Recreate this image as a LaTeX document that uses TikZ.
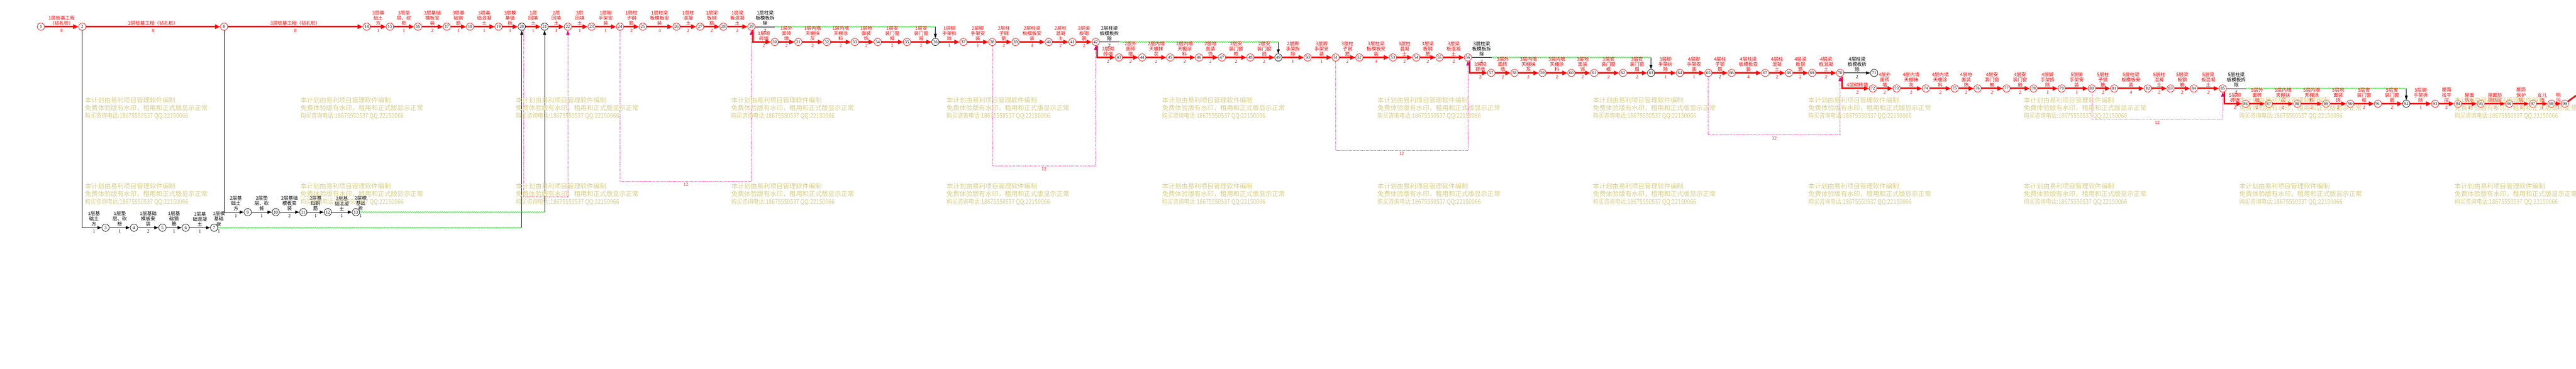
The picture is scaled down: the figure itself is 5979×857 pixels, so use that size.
\documentclass[tikz,border=0pt]{standalone}
\usepackage{fontspec}
\usepackage{graphicx}
\setmainfont{Liberation Serif}
\newfontfamily\cjk{Noto Sans CJK SC}
\usetikzlibrary{arrows.meta,calc,decorations.pathmorphing}
\definecolor{wmc}{RGB}{216,206,132}
\definecolor{vgreen}{RGB}{0,235,0}
\tikzset{
 rn/.style={circle,draw=red,line width=0.9pt,fill=white,minimum size=17pt,inner sep=0pt,font=\fontsize{10}{10}\selectfont},
 bn/.style={rn,draw=black},
 ra/.style={red,line width=3.6pt,-{Triangle[length=12pt,width=10pt]}},
 ba/.style={black,line width=0.8pt,-{Triangle[length=10pt,width=7pt]}},
 bl/.style={black,line width=0.8pt},
 wavy/.style={vgreen,line width=0.8pt,decorate,decoration={snake,amplitude=1.3pt,segment length=5pt}},
 vb/.style={magenta,line width=0.8pt,dotted,-{Triangle[length=10pt,width=8pt]}},
 lab/.style={anchor=south,yshift=3pt,align=center,inner sep=0pt,text=red,font=\cjk\fontsize{11}{12}\selectfont},
 blab/.style={lab,text=black},
 dur/.style={anchor=north,yshift=-5pt,inner sep=0pt,text=red,font=\fontsize{11}{11}\selectfont},
 bdur/.style={dur,text=black},
 boxlab/.style={anchor=north,yshift=-4pt,inner sep=0pt,text=red,font=\fontsize{11}{11}\selectfont},
 wmk/.style={anchor=west,inner sep=0pt,text=wmc,font=\cjk\fontsize{15}{18}\selectfont},
}
\newcommand\RA[4]{\draw[ra] (#1) -- (#2); \path ($(#1)!0.5!(#2)$) node[lab]{#3} node[dur]{#4};}
\newcommand\BA[4]{\draw[ba] (#1) -- (#2); \path ($(#1)!0.5!(#2)$) node[blab]{#3} node[bdur]{#4};}
\newcommand\RD[4]{\draw[ra] ([xshift=4pt]#1.south) |- (#2); \path ($(#1 |- #2)!0.5!(#2)$) node[lab,xshift=2pt]{#3} node[dur,xshift=2pt]{#4};}
\newcommand\BD[4]{\draw[ba] (#1.south) |- (#2); \path ($(#1 |- #2)!0.5!(#2)$) node[blab]{#3} node[bdur]{#4};}
\newcommand\BW[5]{\draw[bl] (#1.east) -- ++(#5,0) coordinate (w#1); \draw[wavy] (w#1) -- (w#1 -| #2); \draw[ba] (w#1 -| #2) -- (#2); \path (#1.east) ++(#5/2,0) node[blab]{#3} node[bdur]{#4};}
\begin{document}
\begin{tikzpicture}[x=1pt,y=-1pt]
\fill[white] (0,0) rectangle (5979,857);
\path[use as bounding box] (0,0) rectangle (5979,857);
% ---------- nodes row 0
\node[rn] (n1) at (95,62) {1};
\node[rn] (n2) at (191,62) {2};
\node[rn] (n8) at (520,62) {8};
\node[rn] (n14) at (851,62) {14};
\node[rn] (n15) at (905,62) {15};
\node[rn] (n16) at (970,62) {16};
\node[rn] (n17) at (1037,62) {17};
\node[rn] (n18) at (1091,62) {18};
\node[rn] (n19) at (1157,62) {19};
\node[bn] (n20) at (1211,62) {20};
\node[bn] (n21) at (1264,62) {21};
\node[rn] (n22) at (1318,62) {22};
\node[rn] (n23) at (1373,62) {23};
\node[rn] (n24) at (1439,62) {24};
\node[rn] (n25) at (1492,62) {25};
\node[rn] (n26) at (1570,62) {26};
\node[rn] (n27) at (1625,62) {27};
\node[rn] (n28) at (1679,62) {28};
\node[rn] (n29) at (1744,62) {29};
% chains
\node[bn] (n3) at (245,529) {3};
\node[bn] (n4) at (311,529) {4};
\node[bn] (n5) at (377,529) {5};
\node[bn] (n6) at (431,529) {6};
\node[bn] (n7) at (497,529) {7};
\node[bn] (n9) at (575,493) {9};
\node[bn] (n10) at (640,493) {10};
\node[bn] (n11) at (704,493) {11};
\node[bn] (n12) at (761,493) {12};
\node[bn] (n13) at (826,493) {13};
% row 1
\node[rn] (n30) at (1798,97.5) {30};
\node[rn] (n31) at (1853,97.5) {31};
\node[rn] (n32) at (1919,97.5) {32};
\node[rn] (n33) at (1984,97.5) {33};
\node[rn] (n34) at (2037,97.5) {34};
\node[rn] (n35) at (2105,97.5) {35};
\node[bn] (n36) at (2171,97.5) {36};
\node[rn] (n37) at (2236,97.5) {37};
\node[rn] (n38) at (2303,97.5) {38};
\node[rn] (n39) at (2357,97.5) {39};
\node[rn] (n40) at (2434,97.5) {40};
\node[rn] (n41) at (2489,97.5) {41};
\node[rn] (n42) at (2543,97.5) {42};
% row 2
\node[rn] (n43) at (2597,133.5) {43};
\node[rn] (n44) at (2651,133.5) {44};
\node[rn] (n45) at (2716,133.5) {45};
\node[rn] (n46) at (2783,133.5) {46};
\node[rn] (n47) at (2836,133.5) {47};
\node[rn] (n48) at (2902,133.5) {48};
\node[bn] (n49) at (2967,133.5) {49};
\node[rn] (n50) at (3035,133.5) {50};
\node[rn] (n51) at (3100,133.5) {51};
\node[rn] (n52) at (3155,133.5) {52};
\node[rn] (n53) at (3233,133.5) {53};
\node[rn] (n54) at (3287,133.5) {54};
\node[rn] (n55) at (3341,133.5) {55};
\node[rn] (n56) at (3407,133.5) {56};
% row 3
\node[rn] (n57) at (3461,169.5) {57};
\node[rn] (n58) at (3515,169.5) {58};
\node[rn] (n59) at (3580,169.5) {59};
\node[rn] (n60) at (3647,169.5) {60};
\node[rn] (n61) at (3700,169.5) {61};
\node[rn] (n62) at (3767,169.5) {62};
\node[bn] (n63) at (3832,169.5) {63};
\node[rn] (n64) at (3899,169.5) {64};
\node[rn] (n65) at (3965,169.5) {65};
\node[rn] (n66) at (4019,169.5) {66};
\node[rn] (n67) at (4097,169.5) {67};
\node[rn] (n68) at (4152,169.5) {68};
\node[rn] (n69) at (4206,169.5) {69};
\node[rn] (n70) at (4271,169.5) {70};
\node[bn] (n71) at (4350,169.5) {71};
% row 4
\node[rn] (n72) at (4347,205.5) {72};
\node[rn] (n73) at (4402,205.5) {73};
\node[rn] (n74) at (4470,205.5) {74};
\node[rn] (n75) at (4537,205.5) {75};
\node[rn] (n76) at (4590,205.5) {76};
\node[rn] (n77) at (4657,205.5) {77};
\node[rn] (n78) at (4720,205.5) {78};
\node[rn] (n79) at (4785,205.5) {79};
\node[rn] (n80) at (4855,205.5) {80};
\node[rn] (n81) at (4907,205.5) {81};
\node[rn] (n82) at (4985,205.5) {82};
\node[rn] (n83) at (5038,205.5) {83};
\node[rn] (n84) at (5092,205.5) {84};
\node[rn] (n85) at (5159,205.5) {85};
% row 5
\node[rn] (n86) at (5212,241) {86};
\node[rn] (n87) at (5266,241) {87};
\node[rn] (n88) at (5332,241) {88};
\node[rn] (n89) at (5399,241) {89};
\node[rn] (n90) at (5455,241) {90};
\node[rn] (n91) at (5519,241) {91};
\node[bn] (n92) at (5585,241) {92};
\node[rn] (n93) at (5652,241) {93};
\node[rn] (n94) at (5705,241) {94};
\node[rn] (n95) at (5758,241) {95};
\node[rn] (n96) at (5824,241) {96};
\node[rn] (n97) at (5879,241) {97};
\node[rn] (n98) at (5922,241) {98};
\node[rn] (n99) at (5953,241) {99};
% ---------- virtual (pink) links
\coordinate (b1) at (1264,457);
\coordinate (b2) at (1592,421);
\coordinate (b3) at (2423,385);
\coordinate (b4) at (3253,349);
\coordinate (b5) at (4118,313);
\coordinate (b6) at (5007,277);
\draw[vb] ([xshift=4pt]n20.south) |- (b1) -| (n22.south);
\draw[vb] (n24.south) |- (b2) -| (n29.south);
\draw[vb] (n38.south) |- (b3) -| (n42.south);
\draw[vb] (n51.south) |- (b4) -| (n56.south);
\draw[vb] (n65.south) |- (b5) -| (n70.south);
\draw[vb] (n80.south) |- (b6) -| (n85.south);
\node[boxlab] (l1) at (b1) {2};
\node[boxlab] (l2) at (b2) {12};
\node[boxlab] (l3) at (b3) {12};
\node[boxlab] (l4) at (b4) {12};
\node[boxlab] (l5) at (b5) {12};
\node[boxlab] (l6) at (b6) {12};
% ---------- row 0 activities
\RA{n1}{n2}{1层桩基工程\\（钻孔桩）}{8}
\RA{n2}{n8}{2层桩基工程（钻孔桩）}{8}
\RA{n8}{n14}{3层桩基工程（钻孔桩）}{8}
\RA{n14}{n15}{3层基\\础土\\方}{1}
\RA{n15}{n16}{3层垫\\层、砍\\桩}{1}
\RA{n16}{n17}{3层基础\\模板安\\装}{2}
\RA{n17}{n18}{3层基\\础钢\\筋}{1}
\RA{n18}{n19}{3层基\\础混凝\\土}{1}
\RA{n19}{n20}{3层模\\基础\\拆}{1}
\RA{n20}{n21}{1层\\回填\\土}{1}
\RA{n21}{n22}{2层\\回填\\土}{1}
\RA{n22}{n23}{3层\\回填\\土}{1}
\RA{n23}{n24}{1层脚\\手架安\\装}{1}
\RA{n24}{n25}{1层柱\\子钢\\筋}{2}
\RA{n25}{n26}{1层柱梁\\板模板安\\装}{4}
\RA{n26}{n27}{1层柱\\混凝\\土}{2}
\RA{n27}{n28}{1层梁\\板钢\\筋}{2}
\RA{n28}{n29}{1层梁\\板混凝\\土}{2}
\BW{n29}{n36}{1层柱梁\\板模板拆\\除}{2}{46}
\RD{n29}{n30}{1层砌\\砖墙}{2}
% ---------- row 1
\RA{n30}{n31}{1层外\\面砖\\墙}{2}
\RA{n31}{n32}{1层内墙\\天棚抹\\灰}{2}
\RA{n32}{n33}{1层内墙\\天棚涂\\料}{2}
\RA{n33}{n34}{1层地\\面装\\饰}{2}
\RA{n34}{n35}{1层安\\装门窗\\框}{2}
\RA{n35}{n36}{1层安\\装门窗\\扇}{2}
\RA{n36}{n37}{1层脚\\手架拆\\除}{1}
\RA{n37}{n38}{2层脚\\手架安\\装}{1}
\RA{n38}{n39}{2层柱\\子钢\\筋}{2}
\RA{n39}{n40}{2层柱梁\\板模板安\\装}{4}
\RA{n40}{n41}{2层柱\\混凝\\土}{2}
\RA{n41}{n42}{2层梁\\板钢\\筋}{2}
\BW{n42}{n49}{2层柱梁\\板模板拆\\除}{2}{46}
\RD{n42}{n43}{2层砌\\砖墙}{2}
% ---------- row 2
\RA{n43}{n44}{2层外\\面砖\\墙}{2}
\RA{n44}{n45}{2层内墙\\天棚抹\\灰}{2}
\RA{n45}{n46}{2层内墙\\天棚涂\\料}{2}
\RA{n46}{n47}{2层地\\面装\\饰}{2}
\RA{n47}{n48}{2层安\\装门窗\\框}{2}
\RA{n48}{n49}{2层安\\装门窗\\扇}{2}
\RA{n49}{n50}{2层脚\\手架拆\\除}{1}
\RA{n50}{n51}{3层脚\\手架安\\装}{1}
\RA{n51}{n52}{3层柱\\子钢\\筋}{2}
\RA{n52}{n53}{3层柱梁\\板模板安\\装}{4}
\RA{n53}{n54}{3层柱\\混凝\\土}{2}
\RA{n54}{n55}{3层梁\\板钢\\筋}{2}
\RA{n55}{n56}{3层梁\\板混凝\\土}{2}
\BW{n56}{n63}{3层柱梁\\板模板拆\\除}{2}{46}
\RD{n56}{n57}{3层砌\\砖墙}{2}
% ---------- row 3
\RA{n57}{n58}{3层外\\面砖\\墙}{2}
\RA{n58}{n59}{3层内墙\\天棚抹\\灰}{2}
\RA{n59}{n60}{3层内墙\\天棚涂\\料}{2}
\RA{n60}{n61}{3层地\\面装\\饰}{2}
\RA{n61}{n62}{3层安\\装门窗\\框}{2}
\RA{n62}{n63}{3层安\\装门窗\\扇}{2}
\RA{n63}{n64}{3层脚\\手架拆\\除}{1}
\RA{n64}{n65}{4层脚\\手架安\\装}{1}
\RA{n65}{n66}{4层柱\\子钢\\筋}{2}
\RA{n66}{n67}{4层柱梁\\板模板安\\装}{4}
\RA{n67}{n68}{4层柱\\混凝\\土}{2}
\RA{n68}{n69}{4层梁\\板钢\\筋}{2}
\RA{n69}{n70}{4层梁\\板混凝\\土}{2}
\BA{n70}{n71}{4层柱梁\\板模板拆\\除}{2}
\RD{n70}{n72}{4层砌砖墙}{2}
% ---------- row 4
\RA{n72}{n73}{4层外\\面砖\\墙}{2}
\RA{n73}{n74}{4层内墙\\天棚抹\\灰}{2}
\RA{n74}{n75}{4层内墙\\天棚涂\\料}{2}
\RA{n75}{n76}{4层地\\面装\\饰}{2}
\RA{n76}{n77}{4层安\\装门窗\\框}{2}
\RA{n77}{n78}{4层安\\装门窗\\扇}{2}
\RA{n78}{n79}{4层脚\\手架拆\\除}{1}
\RA{n79}{n80}{5层脚\\手架安\\装}{1}
\RA{n80}{n81}{5层柱\\子钢\\筋}{2}
\RA{n81}{n82}{5层柱梁\\板模板安\\装}{4}
\RA{n82}{n83}{5层柱\\混凝\\土}{2}
\RA{n83}{n84}{5层梁\\板钢\\筋}{2}
\RA{n84}{n85}{5层梁\\板混凝\\土}{2}
\BW{n85}{n92}{5层柱梁\\板模板拆\\除}{2}{45}
\RD{n85}{n86}{5层砌\\砖墙}{2}
% ---------- row 5
\RA{n86}{n87}{5层外\\面砖\\墙}{2}
\RA{n87}{n88}{5层内墙\\天棚抹\\灰}{2}
\RA{n88}{n89}{5层内墙\\天棚涂\\料}{2}
\RA{n89}{n90}{5层地\\面装\\饰}{2}
\RA{n90}{n91}{5层安\\装门窗\\框}{2}
\RA{n91}{n92}{5层安\\装门窗\\扇}{2}
\RA{n92}{n93}{5层脚\\手架拆\\除}{1}
\RA{n93}{n94}{屋面\\找平\\层}{2}
\RA{n94}{n95}{屋面\\防水}{1}
\RA{n95}{n96}{屋面防\\隔热层}{1}
\RA{n96}{n97}{屋面\\保护\\层}{1}
\RA{n97}{n98}{女儿\\墙}{1}
\RA{n98}{n99}{明\\沟}{1}
\coordinate (e99) at (5979,222);
\draw[red,line width=3.6pt] (n99) -- (e99);
% ---------- chain 1 (1层基础)
\BD{n2}{n3}{1层基\\础土\\方}{1}
\BA{n3}{n4}{1层垫\\层、砍\\桩}{1}
\BA{n4}{n5}{1层基础\\模板安\\装}{2}
\BA{n5}{n6}{1层基\\础钢\\筋}{1}
\BA{n6}{n7}{1层基\\础混凝\\土}{1}
\draw[wavy] (n7.east) -- (n7 -| n20);
\draw[ba] (n7 -| n20) -- (n20);
\path (n7) ++(11,0) node[blab]{1层模\\基础\\拆} node[bdur]{1};
% ---------- chain 2 (2层基础)
\BD{n8}{n9}{2层基\\础土\\方}{1}
\BA{n9}{n10}{2层垫\\层、砍\\桩}{1}
\BA{n10}{n11}{2层基础\\模板安\\装}{2}
\BA{n11}{n12}{2层基\\础钢\\筋}{1}
\BA{n12}{n13}{2层基\\础混凝\\土}{1}
\draw[wavy] (n13.east) -- (n13 -| n21);
\draw[ba] (n13 -| n21) -- (n21);
\path (n13) ++(11,0) node[blab]{2层模\\基础\\拆} node[bdur]{1};
% ---------- watermark
\foreach \kk in {0,...,11}{\foreach \dy in {0,200}{
 \node[wmk] (wa\kk\dy) at (197+500*\kk,233+\dy) {本计划由易利项目管理软件编制};
 \node[wmk] (wb\kk\dy) at (197+500*\kk,251+\dy) {免费体验版有水印，租用和正式版显示正常};
 \node[wmk] (wc\kk\dy) at (197+500*\kk,269+\dy) {\scalebox{0.85}[1]{购买咨询电话:18675550537 QQ:22150066}};
}}
\end{tikzpicture}
\end{document}
